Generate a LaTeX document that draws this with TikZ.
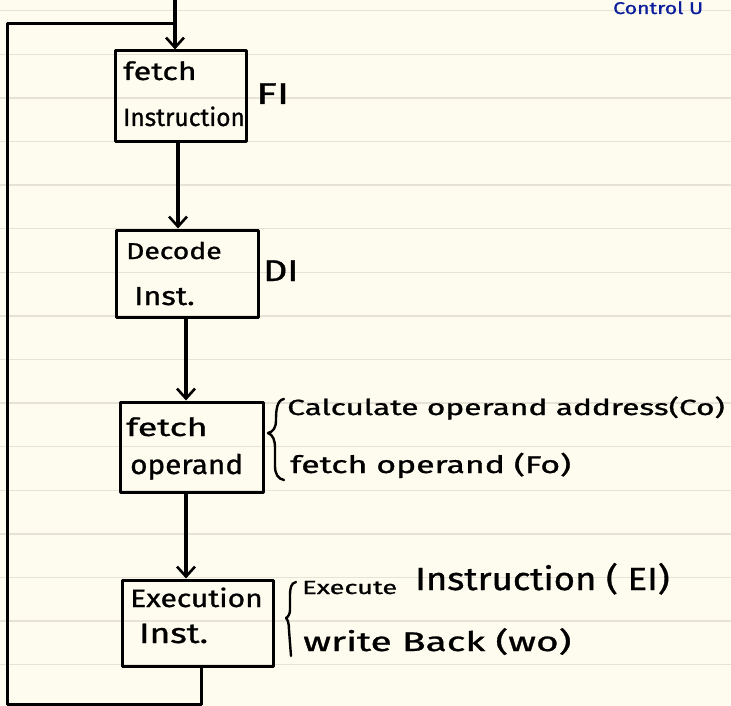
\documentclass[tikz,border=0pt]{standalone}
\usepackage{fontspec}
\usepackage{graphicx}
\usetikzlibrary{arrows.meta,calc}
\newfontfamily\hand[FakeBold=0.9]{Fira Sans}
\definecolor{paper}{HTML}{FEFCEF}
\definecolor{ruleline}{HTML}{E6E2D5}
\definecolor{inkblue}{HTML}{0C1E9C}
\newcommand{\hw}[3]{\scalebox{#1}[1]{\fontsize{#2}{#2}\selectfont #3}}
\begin{document}
\begin{tikzpicture}[x=1pt,y=-1pt,line join=round,
  box/.style={draw,rectangle,inner sep=0pt,line width=3pt},
  txt/.style={anchor=base west,inner sep=0pt,font=\hand},
  arr/.style={line width=3.2pt,-{Straight Barb[length=10pt,width=18pt,line width=2.6pt]}},
  wire/.style={line width=3pt},
  bracepath/.style={line width=2.4pt,line cap=round}]
\fill[paper] (0,0) rectangle (731,706);
\useasboundingbox (0,0) rectangle (731,706);
\clip (0,0) rectangle (731,706);
\foreach \k in {0,...,15} \draw[ruleline,line width=1.3pt] (0,{10.7+43.6*\k}) -- (731,{10.7+43.6*\k});

% boxes
\node[box,minimum width=131pt,minimum height=91pt] (fi) at (180.5,96.5) {};
\node[box,minimum width=142pt,minimum height=87pt] (di) at (187,273.5) {};
\node[box,minimum width=143pt,minimum height=90pt] (fo) at (191.5,447) {};
\node[box,minimum width=151pt,minimum height=86pt] (ex) at (197.5,623) {};

% box texts
\node[txt] (t1a) at (123,80) {\hw{1.29}{25pt}{fetch}};
\node[txt] (t1b) at (123,126) {\hw{0.98}{25pt}{Instruction}};
\node[txt] (t2a) at (126,259) {\hw{1.23}{23pt}{Decode}};
\node[txt] (t2b) at (134,305) {\hw{1.19}{26pt}{Inst.}};
\node[txt] (t3a) at (126,436) {\hw{1.43}{25pt}{fetch}};
\node[txt] (t3b) at (130,474) {\hw{1.1}{27pt}{operand}};
\node[txt] (t4a) at (130,607) {\hw{1.2}{25pt}{Execution}};
\node[txt] (t4b) at (139,643) {\hw{1.26}{28pt}{Inst.}};

% side labels
\node[txt] (lfi) at (256,104) {\hw{1.4}{30pt}{FI}};
\node[txt] (ldi) at (263,281) {\hw{1.25}{30pt}{DI}};
\node[txt] (lco) at (287,415) {\hw{1.44}{22pt}{Calculate operand address(Co)}};
\node[txt] (lfo) at (290,473) {\hw{1.41}{24pt}{fetch operand (Fo)}};
\node[txt] (lei1) at (302,594) {\hw{1.43}{19pt}{Execute}};
\node[txt] (lei2) at (415,590) {\hw{1.14}{32pt}{Instruction ( EI)}};
\node[txt] (lwo) at (303,651) {\hw{1.44}{27pt}{write Back (wo)}};
\node[txt,text=inkblue] (ctl) at (613,14) {\hw{1.25}{17pt}{Control U}};

% braces
\draw[bracepath] (284,399) .. controls (277,400) and (276,410) .. (276,420)
  .. controls (276,428) and (273,432) .. (268,433)
  .. controls (273,435) and (275,440) .. (275,448) -- (275,466)
  .. controls (275,474) and (278,479) .. (284,480);
\draw[bracepath] (296,582) .. controls (291,583) and (290,588) .. (290,596) -- (290,610)
  .. controls (290,614) and (288,617) .. (286,618)
  .. controls (288,620) and (289,624) .. (289,630) -- (291,656);

% connectors
\coordinate (top) at (175,0);
\coordinate (tj) at (175,24);
\coordinate (tl) at (7,24);
\coordinate (bl) at (7,704);
\coordinate (br) at (201,704);
\draw[arr] (top) -- ([xshift=-5.5pt]fi.north);
\draw[wire] ([xshift=3.5pt]ex.south) -- (br) -- (bl) -- (tl) -- (tj);
\draw[arr] ([xshift=-2.5pt]fi.south) -- ([xshift=-9pt]di.north);
\draw[arr] ([xshift=-1pt]di.south) -- ([xshift=-5.5pt]fo.north);
\draw[arr] ([xshift=-5.5pt]fo.south) -- ([xshift=-11.5pt]ex.north);
\end{tikzpicture}
\end{document}
